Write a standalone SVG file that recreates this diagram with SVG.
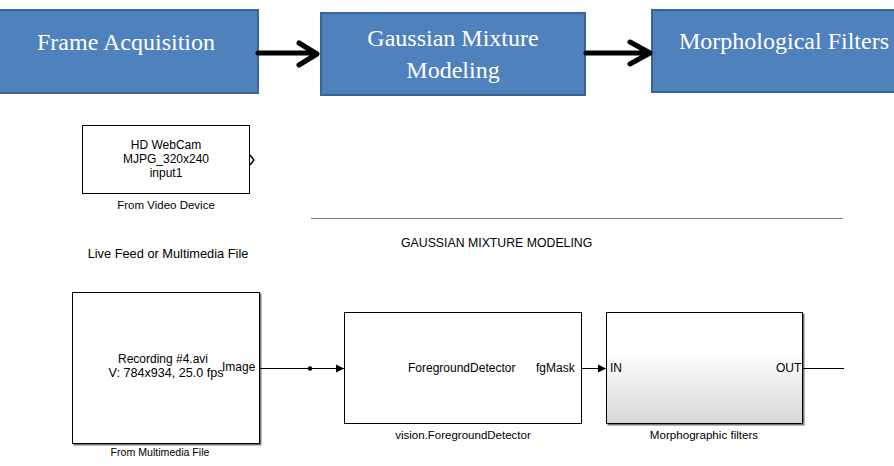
<svg xmlns="http://www.w3.org/2000/svg" width="894" height="466" viewBox="0 0 894 466">
<style>
.blue{fill:#4f81bd;stroke:#3a6494;stroke-width:2}
.wt{fill:#fff;font-family:"Liberation Serif","Times New Roman",serif;font-size:24px}
.big{fill:none;stroke:#000;stroke-width:5;stroke-linecap:round;stroke-linejoin:round}
.blk{fill:#fff;stroke:#000;stroke-width:1}
.t{fill:#000;font-family:"Liberation Sans",Arial,sans-serif;font-size:12px}
.c{text-anchor:middle}
.ln{fill:none;stroke:#000;stroke-width:1}
</style>
<defs>
<linearGradient id="g" x1="0" y1="0" x2="0" y2="1">
<stop offset="0" stop-color="#ffffff"/>
<stop offset="0.35" stop-color="#ffffff"/>
<stop offset="1" stop-color="#d6d6d6"/>
</linearGradient>
<marker id="ah" markerWidth="10" markerHeight="10" refX="9" refY="5" orient="auto" markerUnits="userSpaceOnUse">
<path d="M1,1 L9,5 L1,9 z" fill="#000"/>
</marker>
<filter id="sh" x="-5%" y="-5%" width="110%" height="110%">
<feDropShadow dx="1.5" dy="1.5" stdDeviation="0.6" flood-color="#555" flood-opacity="0.8"/>
</filter>
</defs>
<rect width="894" height="466" fill="#fff"/>

<g id="frame-acquisition">
<rect class="blue" x="-2" y="10" width="260" height="83"/>
<text class="wt c" x="126" y="50">Frame Acquisition</text>
</g>
<g id="gmm">
<rect class="blue" x="321" y="13" width="264" height="82"/>
<text class="wt c" x="453" y="46">Gaussian Mixture</text>
<text class="wt c" x="453" y="78">Modeling</text>
</g>
<g id="morph-filters">
<rect class="blue" x="652" y="10" width="250" height="82"/>
<text class="wt" x="679" y="49">Morphological Filters</text>
</g>

<g id="webcam">
<rect class="blk" x="82.5" y="125.5" width="167" height="68"/>
<text class="t c" x="166" y="149">HD WebCam</text>
<text class="t c" x="166" y="163">MJPG_320x240</text>
<text class="t c" x="166" y="177">input1</text>
<path d="M250,155 L254,160 L250,165" fill="none" stroke="#000" stroke-width="1.5"/>
<text class="t c" x="166" y="209" style="font-size:11.5px">From Video Device</text>
</g>
<text class="t c" x="168" y="258" style="font-size:12.8px">Live Feed or Multimedia File</text>

<line x1="311" y1="218.5" x2="843" y2="218.5" stroke="#808080" stroke-width="1"/>
<text class="t" x="401" y="247" style="font-size:12.3px">GAUSSIAN MIXTURE MODELING</text>

<g id="multimedia-file">
<rect class="blk" x="72.5" y="292.5" width="187" height="151" filter="url(#sh)"/>
<text class="t c" x="163" y="363">Recording #4.avi</text>
<text class="t c" x="166" y="377" style="font-size:12.6px">V: 784x934, 25.0 fps</text>
<text class="t" x="222" y="371">Image</text>
<text class="t c" x="160" y="456" style="font-size:10.6px">From Multimedia File</text>
</g>

<g id="foreground-detector">
<rect class="blk" x="344.5" y="312.5" width="237" height="111"/>
<text class="t" x="408" y="372">ForegroundDetector</text>
<text class="t" x="536" y="372">fgMask</text>
<text class="t c" x="463" y="439" style="font-size:11.5px">vision.ForegroundDetector</text>
</g>

<g id="morphographic-filters">
<rect x="606.5" y="312.5" width="196" height="111" fill="url(#g)" stroke="#000" stroke-width="1" filter="url(#sh)"/>
<text class="t" x="610" y="372">IN</text>
<text class="t" x="776" y="372">OUT</text>
<text class="t c" x="704" y="439" style="font-size:11.6px">Morphographic filters</text>
</g>

<g id="connectors">
<path class="big" d="M258,53 L316,53 M299,43 L317,54 L299,65"/>
<path class="big" d="M586,53 L649,53 M630,42 L650,53 L630,64"/>
<line class="ln" x1="260" y1="368.5" x2="344" y2="368.5" marker-end="url(#ah)"/>
<circle cx="310" cy="368.5" r="2.2" fill="#000"/>
<line class="ln" x1="582" y1="368.5" x2="606" y2="368.5" marker-end="url(#ah)"/>
<line class="ln" x1="803" y1="368.5" x2="844" y2="368.5"/>
</g>
</svg>
